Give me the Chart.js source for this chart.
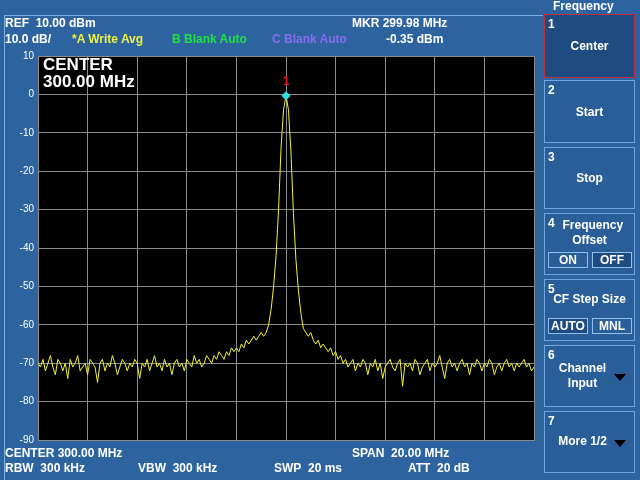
<!DOCTYPE html>
<html><head><meta charset="utf-8">
<script src="https://cdn.jsdelivr.net/npm/chart.js@4"></script>
<style>
body{margin:0;width:640px;height:480px;background:#2d64a0;overflow:hidden;font-family:"Liberation Sans",Arial,sans-serif;font-weight:bold;color:#fff;position:relative}
.t{position:absolute;font-size:12px;white-space:nowrap;line-height:12px}
.btn{position:absolute;left:544px;width:91px;border:1px solid #6fa6dc;background:#2a5e98;box-sizing:border-box}
.n{position:absolute;left:3px;top:2px;font-size:12px}
.lbl{position:absolute;left:0;right:0;text-align:center;font-size:12px;line-height:15px}
.sb{position:absolute;width:40px;height:16px;border:1px solid #8fbfea;box-sizing:border-box;text-align:center;font-size:12px;line-height:14px;top:38px}
.tri{position:absolute;right:8px;width:0;height:0;border-left:6px solid transparent;border-right:6px solid transparent;border-top:7px solid #000}
#frame{position:absolute;left:4px;top:15px;width:538px;height:466px;border-left:1px solid #7ab0e4;border-top:1px solid #7ab0e4}
canvas{position:absolute;left:0;top:0}
</style></head><body>
<div id="frame"></div>
<div style="position:absolute;left:0;top:0;width:640px;height:480px"><canvas id="c" width="640" height="480"></canvas></div>
<div class="t" style="left:5px;top:17px">REF&nbsp; 10.00 dBm</div>
<div class="t" style="left:5px;top:33px">10.0 dB/</div>
<div class="t" style="left:72px;top:33px;color:#f0f040">*A Write Avg</div>
<div class="t" style="left:172px;top:33px;color:#20e040">B Blank Auto</div>
<div class="t" style="left:272px;top:33px;color:#8a6cf0">C Blank Auto</div>
<div class="t" style="left:352px;top:17px">MKR 299.98 MHz</div>
<div class="t" style="left:386px;top:33px">-0.35 dBm</div>
<div class="t" style="left:43px;top:56px;font-size:17px;line-height:17px">CENTER<br>300.00 MHz</div>
<div class="t" style="left:283px;top:75px;color:#e02020;font-size:12px">1</div>
<div class="t" style="left:5px;top:447px">CENTER 300.00 MHz</div>
<div class="t" style="left:352px;top:447px">SPAN&nbsp; 20.00 MHz</div>
<div class="t" style="left:5px;top:462px">RBW&nbsp; 300 kHz</div>
<div class="t" style="left:138px;top:462px">VBW&nbsp; 300 kHz</div>
<div class="t" style="left:274px;top:462px">SWP&nbsp; 20 ms</div>
<div class="t" style="left:408px;top:462px">ATT&nbsp; 20 dB</div>

<div class="t" style="left:550px;top:0px;padding:0 3px;background:#2d64a0">Frequency</div>
<div class="btn" style="top:14px;height:64px;border-color:#c03040;background:#1f4c80"><span class="n">1</span><div class="lbl" style="top:24px">Center</div></div>
<div class="btn" style="top:80px;height:63px"><span class="n">2</span><div class="lbl" style="top:24px">Start</div></div>
<div class="btn" style="top:147px;height:62px"><span class="n">3</span><div class="lbl" style="top:23px">Stop</div></div>
<div class="btn" style="top:213px;height:62px"><span class="n">4</span><div class="lbl" style="top:4px">&nbsp;&nbsp;Frequency<br>Offset</div><div class="sb" style="left:3px">ON</div><div class="sb" style="left:47px;background:#1f4c80">OFF</div></div>
<div class="btn" style="top:279px;height:62px"><span class="n">5</span><div class="lbl" style="top:12px">CF Step Size</div><div class="sb" style="left:3px;background:#1f4c80">AUTO</div><div class="sb" style="left:47px">MNL</div></div>
<div class="btn" style="top:345px;height:62px"><span class="n">6</span><div class="lbl" style="top:15px;right:14px">Channel<br>Input</div><div class="tri" style="top:28px"></div></div>
<div class="btn" style="top:411px;height:62px"><span class="n">7</span><div class="lbl" style="top:22px;right:14px">More 1/2</div><div class="tri" style="top:28px"></div></div>
<script>
const startMHz=290, stepMHz=0.1;
const leftNoise=[-70,-71,-69,-72,-70,-68,-71,-73,-69,-70,-72,-70,-74,-69,-71,-70,-68,-72,-71,-70,
-73,-69,-70,-71,-75,-70,-69,-72,-70,-71,-68,-70,-73,-71,-69,-70,-72,-70,-71,-69,
-70,-74,-70,-71,-69,-72,-70,-68,-71,-70,-72,-69,-71,-70,-73,-70,-69,-71,-70,-72,
-69,-70,-71,-68,-70,-69,-71,-70,-68,-69,-70,-68,-69,-67,-68,-69,-67,-68,-66,-67,
-66,-67,-65,-66,-64];
const peakRegion=[-65,-64,-63,-64,-63,-62,-63,-62,-60,-56,-50,-42,-30,-14,-4,
-0.35,
-4,-15,-31,-43,-51,-57,-61,-62,-63,-62,-64,-65,-64,-66,-65];
const rightNoise=[-66,-67,-66,-68,-67,-69,-68,-70,-69,-71,-70,-69,-72,-70,-71,-69,-70,-73,-70,-71,
-69,-72,-70,-74,-71,-70,-69,-71,-72,-70,-69,-76,-70,-71,-70,-72,-69,-70,-73,-71,
-70,-69,-72,-70,-71,-70,-68,-71,-74,-70,-69,-71,-70,-72,-70,-69,-71,-70,-73,-70,
-71,-69,-70,-72,-70,-71,-69,-70,-73,-71,-70,-72,-70,-69,-71,-70,-72,-70,-71,-70,
-69,-71,-70,-72,-71];
const yTicks=[10,0,-10,-20,-30,-40,-50,-60,-70,-80,-90];
const marker={x:300,y:-0.35};
const trace=[...leftNoise,...peakRegion,...rightNoise].map((v,i)=>({x:startMHz+i*stepMHz,y:v}));
const bg={id:'bg',beforeDraw(ch){const a=ch.chartArea,c=ch.ctx;c.save();c.fillStyle='#000';c.fillRect(a.left,a.top,a.right-a.left,a.bottom-a.top);c.restore();}};
new Chart(document.getElementById('c'),{
type:'line',
data:{datasets:[
{data:[marker],showLine:false,pointStyle:'rectRot',pointRadius:4,backgroundColor:'#30e0e0',borderColor:'#30e0e0'},
{data:trace,borderColor:'#f4f430',borderWidth:1,pointRadius:0,tension:0}
]},
options:{responsive:false,animation:false,
layout:{padding:{left:0,top:56,right:106,bottom:40}},
plugins:{legend:{display:false},tooltip:{enabled:false}},
scales:{
x:{type:'linear',min:290,max:310,ticks:{display:false,stepSize:2},grid:{color:'#8a8a8a',drawTicks:false},border:{color:'#8a8a8a'},afterFit(s){s.height=0;}},
y:{min:-90,max:10,afterBuildTicks(s){s.ticks=yTicks.map(v=>({value:v}));},
ticks:{color:'#fff',font:{size:10,family:'Liberation Sans'},padding:4},
grid:{color:'#8a8a8a',drawTicks:false},border:{color:'#8a8a8a'},afterFit(s){s.width=38;}}
}},
plugins:[bg]});
</script>
</body></html>
